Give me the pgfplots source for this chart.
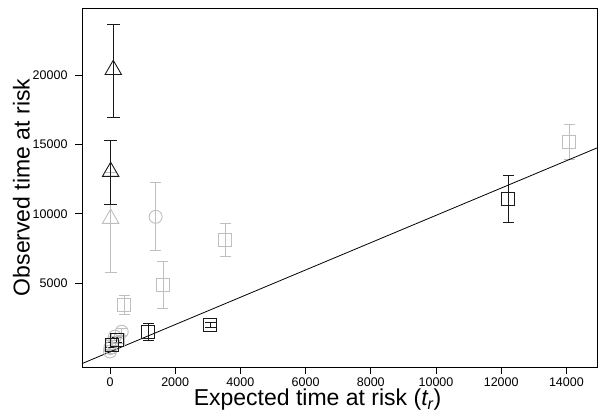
\documentclass[border=0pt]{standalone}
\usepackage{fontspec}
\setmainfont{Liberation Sans}
\usepackage{pgfplots}
\pgfplotsset{compat=1.18}
\definecolor{lgray}{gray}{0.75}
\definecolor{dk}{gray}{0.1}
\begin{document}
\begin{tikzpicture}[x=1pt,y=1pt]
\useasboundingbox (-82,-50) rectangle (517,367);
\begin{axis}[
  scale only axis, width=515pt, height=359pt,
  at={(0,0)}, anchor=south west,
  xmin=-859, xmax=14939, ymin=-1039, ymax=24820,
  xtick={0,2000,4000,6000,8000,10000,12000,14000},
  ytick={5000,10000,15000,20000},
  scaled ticks=false,
  xtick pos=bottom, ytick pos=left, tick align=outside,
  major tick length=7pt,
  /pgf/number format/1000 sep={},
  /pgf/number format/assume math mode=true,
  ticklabel style={font=\fontsize{12.5}{14}\selectfont},
  xticklabel style={yshift=0pt},
  yticklabel style={xshift=-4pt},
  axis line style={line width=0.8pt},
  every tick/.style={line width=0.6pt, black},
  xlabel={Expected time at risk (\textit{t\textsubscript{r}})},
  ylabel={Observed time at risk},
  label style={font=\fontsize{23}{24}\selectfont},
  xlabel style={yshift=4pt, xshift=-22pt},
  ylabel style={yshift=-4pt},
  error bars/y dir=both, error bars/y explicit,
  error bars/error bar style={line width=0.9pt},
]
% gray series
\addplot[only marks, color=lgray, mark=o, mark size=6.5pt, line width=0.9pt,
  error bars/error mark options={rotate=90, mark size=5.5pt, line width=0.9pt}]
 coordinates {
 (0,80) += (0,150) -= (0,150)
 (10,330) += (0,150) -= (0,150)
 (60,700) += (0,200) -= (0,200)
 (150,1150) += (0,250) -= (0,250)
 (360,1500) += (0,250) -= (0,250)
 (1400,9780) += (0,2500) -= (0,2450)
 };
\addplot[only marks, color=lgray, mark=square, mark size=6.5pt, line width=0.9pt,
  error bars/error mark options={rotate=90, mark size=5.5pt, line width=0.9pt}]
 coordinates {
 (430,3410) += (0,720) -= (0,650)
 (1625,4860) += (0,1680) -= (0,1690)
 (3530,8100) += (0,1210) -= (0,1150)
 (14090,15200) += (0,1200) -= (0,1270)
 (250,900) += (0,250) -= (0,250)
 };
\addplot[only marks, color=lgray, mark=triangle, mark size=9.5pt, line width=0.9pt,
  error bars/error mark options={rotate=90, mark size=6pt, line width=0.9pt}]
 coordinates {
 (20,9650) += (0,3300) -= (0,3880)
 };
% black series
\addplot[only marks, color=dk, mark=square, mark size=6.5pt, line width=0.9pt,
  error bars/error mark options={rotate=90, mark size=5.5pt, line width=0.9pt}]
 coordinates {
 (50,550) += (0,200) -= (0,200)
 (200,900) += (0,200) -= (0,200)
 (1175,1490) += (0,600) -= (0,650)
 (3070,1970) += (0,180) -= (0,170)
 (12220,11100) += (0,1640) -= (0,1720)
 };
\addplot[only marks, color=dk, mark=triangle, mark size=9.5pt, line width=0.9pt,
  error bars/error mark options={rotate=90, mark size=6.5pt, line width=0.9pt}]
 coordinates {
 (100,20370) += (0,3300) -= (0,3440)
 (20,13030) += (0,2270) -= (0,2350)
 };
\addplot[black, line width=0.8pt] coordinates {(-859,-794) (14939,14740)};
\end{axis}
\end{tikzpicture}
\end{document}
